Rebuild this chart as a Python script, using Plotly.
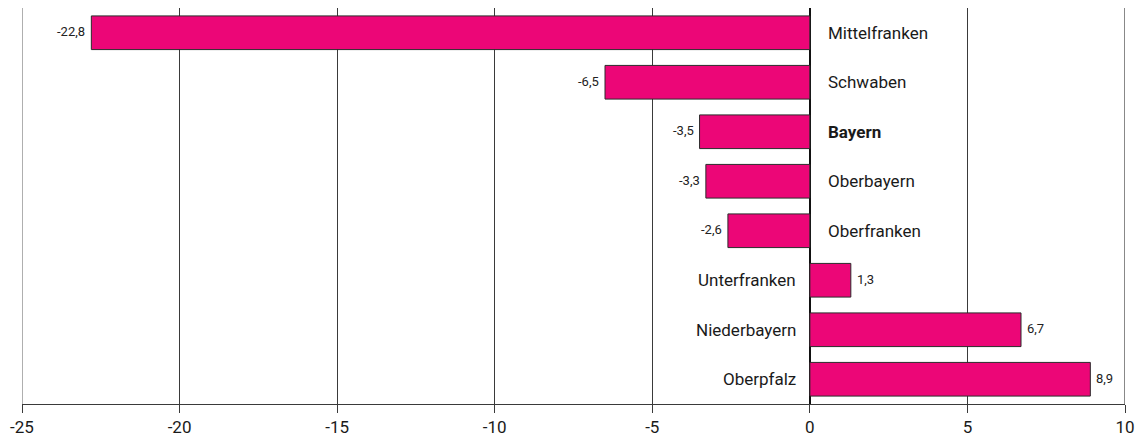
import plotly.graph_objects as go

regions = ["Mittelfranken", "Schwaben", "Bayern", "Oberbayern", "Oberfranken",
           "Unterfranken", "Niederbayern", "Oberpfalz"]
values = [-22.8, -6.5, -3.5, -3.3, -2.6, 1.3, 6.7, 8.9]
x_ticks = [-25, -20, -15, -10, -5, 0, 5, 10]
x_tick_labels = ["-25", "-20", "-15", "-10", "-5", "0", "5", "10"]

FONT = "Roboto, sans-serif"
value_text = [f"{v:.1f}".replace(".", ",") for v in values]

fig = go.Figure()
fig.add_trace(go.Bar(
    y=regions, x=values, orientation="h",
    marker=dict(color="#EC0677", line=dict(color="#2b2b2b", width=1)),
    width=0.68,
    cliponaxis=False,
))

for r, v, t in zip(regions, values, value_text):
    label = f"<b>{r}</b>" if r == "Bayern" else r
    if v < 0:
        fig.add_annotation(x=0, y=r, text=label, showarrow=False,
                           xanchor="left", xshift=16,
                           font=dict(family=FONT, size=17, color="#1a1a1a"))
        fig.add_annotation(x=v, y=r, text=t, showarrow=False,
                           xanchor="right", xshift=-4, yshift=1,
                           font=dict(family=FONT, size=13, color="#222222"))
    else:
        fig.add_annotation(x=0, y=r, text=label, showarrow=False,
                           xanchor="right", xshift=-12,
                           font=dict(family=FONT, size=17, color="#1a1a1a"))
        fig.add_annotation(x=v, y=r, text=t, showarrow=False,
                           xanchor="left", xshift=4, yshift=1,
                           font=dict(family=FONT, size=13, color="#222222"))

# edge lines at the range limits (left gray, right dark)
fig.add_vline(x=x_ticks[0], line=dict(color="#7a7a7a", width=1.2), layer="below")
fig.add_vline(x=x_ticks[-1], line=dict(color="#3a3a3a", width=1.2), layer="below")

fig.update_layout(
    width=1142, height=441,
    margin=dict(l=22, r=17, t=8, b=37, autoexpand=False),
    paper_bgcolor="white", plot_bgcolor="white",
    showlegend=False, bargap=0.32,
    font=dict(family=FONT, size=17, color="#1a1a1a"),
)
fig.update_xaxes(
    range=[-25, 10], tickvals=x_ticks, ticktext=x_tick_labels, automargin=False,
    showgrid=True, gridcolor="#3a3a3a", gridwidth=1,
    zeroline=True, zerolinecolor="#111111", zerolinewidth=1.5,
    showline=True, linecolor="#3a3a3a", linewidth=1,
    ticks="outside", ticklen=8, tickcolor="#3a3a3a", ticklabelstandoff=0,
    tickfont=dict(family=FONT, size=17, color="#1a1a1a"),
)
fig.update_yaxes(
    autorange="reversed", showticklabels=False, showgrid=False, automargin=False,
    zeroline=False, showline=False, ticks="",
)

fig.write_html("out.html", config={"displayModeBar": False},
               post_script="document.body.style.margin='0';document.body.style.overflow='hidden';")
